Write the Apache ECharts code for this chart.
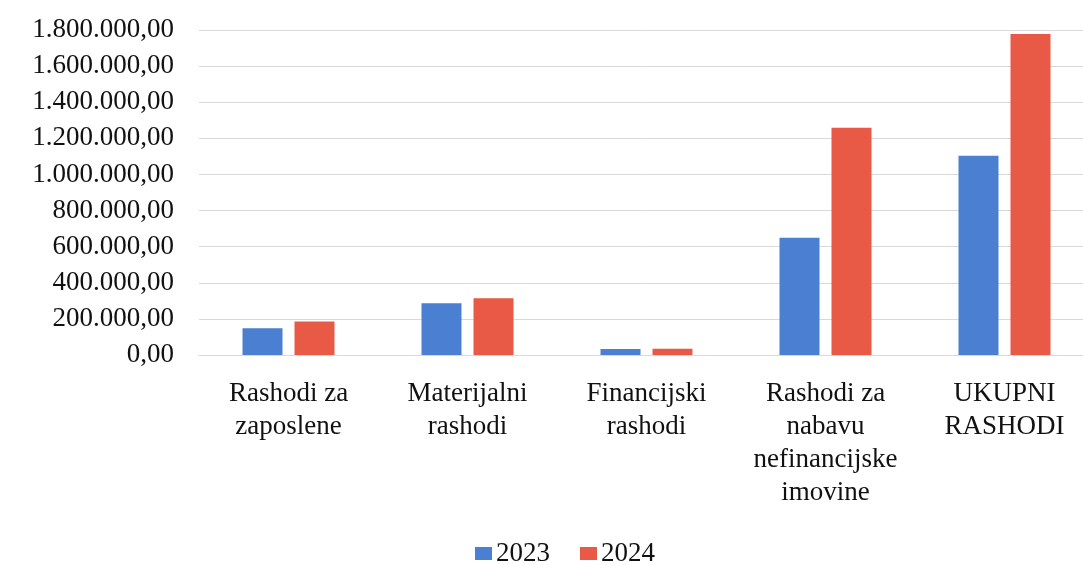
<!DOCTYPE html>
<html>
<head>
<meta charset="utf-8">
<script src="https://cdn.jsdelivr.net/npm/echarts@6/dist/echarts.min.js"></script>
<style>
  html, body { margin: 0; padding: 0; background: #fff; overflow: hidden; }
  #chart { width: 1100px; height: 565px; }
</style>
</head>
<body>
<div id="chart"></div>
<script>
// podaci
var categories = [
  'Rashodi za\nzaposlene',
  'Materijalni\nrashodi',
  'Financijski\nrashodi',
  'Rashodi za\nnabavu\nnefinancijske\nimovine',
  'UKUPNI\nRASHODI'
];
var years = ['2023', '2024'];
var values2023 = [148000, 286000, 33000, 650000, 1104000];
var values2024 = [186000, 314000, 35000, 1258000, 1778000];
var colors = ['#4a7fd1', '#e85a46'];

var font = 'Liberation Serif';

// 1.800.000,00
function fmt(v) {
  var s = String(Math.round(v));
  s = s.replace(/\B(?=(\d{3})+(?!\d))/g, '.');
  return s + ',00';
}

var chart = echarts.init(document.getElementById('chart'));
var options = {
  animation: false,
  backgroundColor: '#fff',
  textStyle: { fontFamily: font },
  legend: {
    top: 535,
    left: 470,
    itemWidth: 17,
    itemHeight: 13,
    itemGap: 30,
    icon: 'rect',
    textStyle: { fontFamily: font, fontSize: 27, color: '#111', padding: [0, 0, 0, -1] },
    data: years
  },
  grid: {
    left: 199,
    right: 6,
    top: 30,
    bottom: 210
  },
  xAxis: {
    type: 'category',
    data: categories,
    axisLine: { lineStyle: { color: '#d9d9d9' } },
    axisTick: { show: false },
    axisLabel: {
      color: '#111',
      fontFamily: font,
      fontSize: 27,
      lineHeight: 33,
      margin: 22,
      interval: 0
    }
  },
  yAxis: {
    type: 'value',
    min: 0,
    max: 1800000,
    interval: 200000,
    axisLine: { show: false },
    axisTick: { show: false },
    splitLine: { lineStyle: { color: '#d9d9d9', width: 1 } },
    axisLabel: {
      color: '#111',
      fontFamily: font,
      fontSize: 27,
      margin: 25,
      formatter: fmt
    }
  },
  series: [
    {
      name: years[0],
      type: 'bar',
      data: values2023,
      barWidth: 40,
      barGap: '30%',
      itemStyle: { color: colors[0] }
    },
    {
      name: years[1],
      type: 'bar',
      data: values2024,
      barWidth: 40,
      barGap: '30%',
      itemStyle: { color: colors[1] }
    }
  ]
};
chart.setOption(options, true);
</script>
</body>
</html>
